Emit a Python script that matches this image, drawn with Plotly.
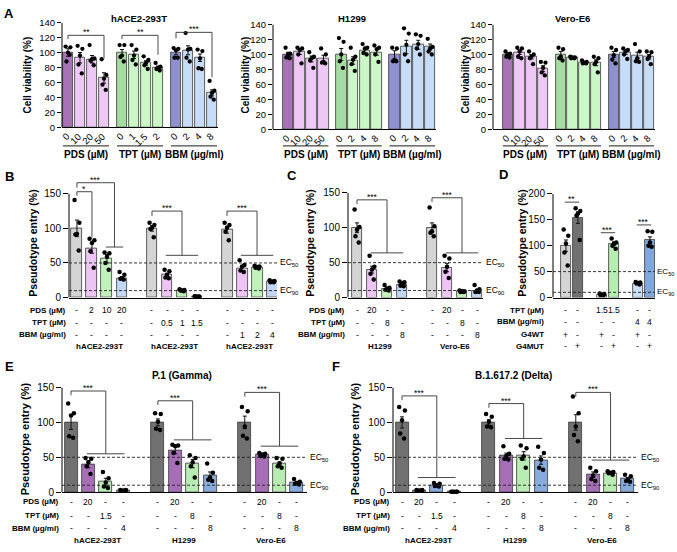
import plotly.graph_objects as go

W, H = 677, 552
def fx(p): return p / W
def fy(p): return 1 - p / H

# ------------------------------------------------------------------ data
# Panel A: cell viability
a_groups = ["PDS (µM)", "TPT (µM)", "BBM (µg/ml)"]
a1_ticks = ["0", "10", "20", "50", "0", "1", "1.5", "2", "0", "2", "4", "8"]
a23_ticks = ["0", "10", "20", "50", "0", "2", "4", "8", "0", "2", "4", "8"]

a1_mean = [100, 93, 91, 66, 100, 97, 86, 80, 100, 103, 93, 46]
a1_sem = [5, 7, 5, 7, 4, 5, 3, 2, 3, 6, 5, 4]
a1_dots = [[108, 107, 100, 88, 97], [109, 105, 96, 84, 72], [110, 92, 91, 89, 83], [91, 70, 65, 57, 50],
           [110, 110, 96, 94, 88], [110, 104, 96, 90, 84], [95, 90, 86, 83, 78], [86, 81, 79, 78, 76],
           [106, 105, 103, 93, 93], [126, 105, 104, 93, 88], [104, 102, 92, 79, 78], [62, 49, 46, 41, 37]]

a2_mean = [100, 104, 94, 95, 100, 92, 105, 103, 100, 110, 113, 110]
a2_sem = [3, 4, 4, 4, 8, 5, 3, 4, 5, 9, 6, 4]
a2_dots = [[109, 101, 100, 96, 95], [109, 108, 106, 100, 88], [103, 97, 95, 92, 82], [108, 100, 90, 89, 88],
           [122, 117, 100, 91, 82], [109, 97, 93, 87, 78], [114, 109, 108, 102, 100], [112, 109, 107, 100, 90],
           [109, 108, 92, 91, 91], [135, 128, 113, 100, 91], [127, 125, 114, 108, 100], [121, 110, 108, 104, 100]]

a3_mean = [100, 103, 97, 81, 100, 96, 89, 89, 100, 103, 99, 97]
a3_sem = [2, 3, 3, 4, 4, 1, 1, 4, 4, 3, 4, 3]
a3_dots = [[104, 101, 100, 97, 96], [109, 108, 104, 97, 95], [104, 100, 97, 95, 87], [90, 89, 82, 76, 72],
           [109, 107, 97, 95, 92], [97, 96, 96, 95, 95], [92, 90, 89, 88, 88], [97, 95, 90, 87, 76],
           [109, 106, 99, 93, 88], [108, 106, 104, 100, 94], [114, 104, 95, 91, 90], [104, 103, 97, 94, 87]]

# Panel B
b_pds = ["-", "2", "10", "20", "-", "-", "-", "-", "-", "-", "-", "-"]
b_tpt = ["-", "-", "-", "-", "-", "0.5", "1", "1.5", "-", "-", "-", "-"]
b_bbm = ["-", "-", "-", "-", "-", "-", "-", "-", "-", "1", "2", "4"]
b_cells = ["hACE2-293T", "hACE2-293T", "hACE2-293T"]
b_mean = [100, 71, 56, 28, 100, 33, 10, 1.5, 98, 42, 43, 23]
b_sem = [12, 7, 6, 2, 4, 2, 0.8, 0.3, 5, 3, 1.5, 1]
b_dots = [[141, 108, 92, 91, 68], [85, 83, 79, 67, 43], [65, 64, 59, 50, 40], [37, 33, 28, 27, 26],
          [108, 105, 101, 99, 87], [40, 38, 33, 29, 28], [12, 11, 10, 10, 9], [2, 1.5, 1.5, 1, 1],
          [108, 105, 101, 95, 83], [54, 47, 45, 39, 37], [46, 45, 44, 43, 42], [25, 24, 23, 22, 22]]

# Panel C
c_pds = ["-", "20", "-", "-", "-", "20", "-", "-"]
c_tpt = ["-", "-", "8", "-", "-", "-", "8", "-"]
c_bbm = ["-", "-", "-", "8", "-", "-", "-", "8"]
c_cells = ["H1299", "Vero-E6"]
c_mean = [100, 40, 12, 18, 100, 43, 9, 10]
c_sem = [7, 5, 1.5, 1.5, 7, 6, 0.5, 1.5]
c_dots = [[126, 101, 97, 88, 79], [60, 44, 40, 34, 26], [18, 14, 13, 11, 10], [23, 22, 20, 17, 16],
          [129, 102, 95, 93, 88], [60, 56, 44, 37, 28], [10, 9, 9, 8, 8], [18, 12, 10, 8, 8]]

# Panel D
d_tpt = ["-", "-", "1.5", "1.5", "-", "-"]
d_bbm = ["-", "-", "-", "-", "4", "4"]
d_wt = ["+", "-", "+", "-", "+", "-"]
d_mut = ["-", "+", "-", "+", "-", "+"]
d_mean = [100, 154, 6, 104, 27, 111]
d_sem = [11, 11, 1, 3, 1, 6]
d_dots = [[131, 119, 104, 87, 62], [172, 167, 162, 158, 111], [8, 7, 6, 5, 5],
          [114, 106, 104, 100, 94], [30, 29, 28, 27, 25], [128, 127, 106, 100, 98]]

# Panels E and F
ef_pds = ["-", "20", "-", "-", "-", "20", "-", "-", "-", "20", "-", "-"]
ef_tpt = ["-", "-", "1.5", "-", "-", "-", "8", "-", "-", "-", "8", "-"]
ef_bbm = ["-", "-", "-", "4", "-", "-", "-", "8", "-", "-", "-", "8"]
ef_cells = ["hACE2-293T", "H1299", "Vero-E6"]
e_mean = [100, 40, 15, 2.5, 100, 60, 41, 24, 100, 54, 41, 14]
e_sem = [10, 5, 5, 0.5, 5, 5, 6, 5, 9, 1, 2.5, 1.5]
e_dots = [[127, 113, 110, 80, 78], [49, 48, 43, 37, 26], [29, 20, 14, 8, 6], [3, 3, 2.5, 2, 2],
          [113, 112, 101, 91, 89], [68, 67, 66, 56, 42], [53, 49, 43, 37, 21], [41, 28, 21, 18, 16],
          [122, 116, 94, 81, 77], [56, 55, 54, 52, 51], [49, 48, 41, 37, 35], [19, 15, 13, 12, 11]]
f_mean = [100, 2.5, 10, 0.5, 100, 52, 52, 46, 100, 25, 27, 19]
f_sem = [8, 0.3, 1, 0.2, 4, 4, 6, 6, 11, 4, 1, 2]
f_dots = [[122, 117, 103, 84, 77], [3, 3, 2.5, 2, 2], [13, 12, 10, 9, 8], [0.5, 0.5, 0.5, 0.5, 0.5],
          [112, 108, 101, 94, 93], [66, 55, 52, 48, 47], [67, 63, 51, 48, 35], [65, 56, 47, 35, 32],
          [137, 113, 94, 82, 73], [35, 30, 24, 19, 16], [30, 29, 28, 27, 25], [25, 23, 18, 16, 15]]

# ------------------------------------------------------------------ style
FONT = "Liberation Sans, Arial, sans-serif"
PDS_D, PDS_L = "#a873b6", "#eec8f5"
TPT_D, TPT_L = "#a6dba2", "#cbf6c5"
BBM_D, BBM_L = "#8e90d0", "#c7dcf6"
GRAY_L, GRAY_D = "#d4d4d4", "#717171"
PINK, GREEN, BLUE = "#eec4f5", "#c2f2bc", "#c1d7f3"
PURPLE, GREEN2, BLUE2 = "#a66fb5", "#b8ecb2", "#86abdc"
JIT = [-0.22, 0.22, 0.0, -0.14, 0.16]

fig = go.Figure()
axes = {}
shapes = []
anns = []


def ann(text, x, y, xref="paper", yref="paper", size=8, bold=False, xanchor="center",
        yanchor="middle", angle=0, yshift=0, xshift=0):
    if bold:
        text = "<b>" + text + "</b>"
    anns.append(dict(text=text, x=x, y=y, xref=xref, yref=yref, showarrow=False,
                     font=dict(size=size, family=FONT, color="black"), xanchor=xanchor,
                     yanchor=yanchor, textangle=angle, yshift=yshift, xshift=xshift, borderpad=0))


def refs(k):
    return ("x", "y") if k == 1 else (f"x{k}", f"y{k}")


def panel(k, xpx, ypx, xr, yr, yticks, xs, means, sems, dots, colors, barw, dotsize=4.5,
          tsize=10, tlen=5):
    xa, ya = refs(k)
    axes["xaxis" if k == 1 else f"xaxis{k}"] = dict(
        domain=[fx(xpx[0]), fx(xpx[1])], range=xr, anchor=ya, showgrid=False, zeroline=False,
        showline=True, linecolor="black", linewidth=1, ticks="", showticklabels=False, fixedrange=True)
    axes["yaxis" if k == 1 else f"yaxis{k}"] = dict(
        domain=[fy(ypx[0]), fy(ypx[1])], range=yr, anchor=xa, showgrid=False, zeroline=False,
        showline=False, ticks="outside", ticklen=tlen, tickwidth=1, tickcolor="black",
        tickvals=yticks, tickfont=dict(size=tsize, family=FONT, color="black"), fixedrange=True)
    shapes.append(dict(type="line", xref="paper", yref=ya, x0=fx(xpx[0]), x1=fx(xpx[0]),
                       y0=0, y1=yticks[-1], line=dict(color="black", width=1)))
    fig.add_trace(go.Bar(x=xs, y=means, width=barw, xaxis=xa, yaxis=ya, showlegend=False,
                         marker=dict(color=colors, line=dict(color="#3a3a3a", width=0.8)),
                         error_y=dict(type="data", array=sems, visible=True, color="#111",
                                      thickness=1, width=2)))
    dx, dy = [], []
    for x, vals in zip(xs, dots):
        for j, v in enumerate(vals):
            dx.append(x + JIT[j] * barw)
            dy.append(v)
    fig.add_trace(go.Scatter(x=dx, y=dy, mode="markers", xaxis=xa, yaxis=ya, showlegend=False,
                             cliponaxis=False, marker=dict(size=dotsize, color="black")))


def line(k, x0, y0, x1, y1, dash=None, width=0.9, color="#333"):
    xa, ya = refs(k)
    d = dict(type="line", xref=xa, yref=ya, x0=x0, y0=y0, x1=x1, y1=y1,
             line=dict(color=color, width=width))
    if dash:
        d["line"]["dash"] = dash
    shapes.append(d)


def bracket(k, xc, xa_, xb_, ytop, ylow, yleft, stars):
    xm = (xa_ + xb_) / 2
    line(k, xc, ytop, xm, ytop)
    line(k, xc, ytop, xc, yleft)
    line(k, xm, ytop, xm, ylow)
    if xb_ > xa_:
        line(k, xa_ - 0.08, ylow, xb_ + 0.08, ylow)
    xr, yr = refs(k)
    ann(stars, (xc + xm) / 2, ytop, xref=xr, yref=yr, size=8.5, yanchor="bottom", yshift=-3)


def ec_lines(k, xr, size=8.5, xshift=1.5):
    xa, ya = refs(k)
    for v, lab in [(50, "EC<sub>50</sub>"), (10, "EC<sub>90</sub>")]:
        line(k, xr[0], v, xr[1], v, dash="3px,2px", width=0.9, color="#222")
        ann(lab, xr[1], v, xref=xa, yref=ya, size=size, xanchor="left", xshift=xshift)


def rows(k, xs, row_vals, row_names, row_y, label_right):
    xa, _ = refs(k)
    for vals, name, y in zip(row_vals, row_names, row_y):
        ann(name, fx(label_right), fy(y), size=8, bold=True, xanchor="right")
        for x, v in zip(xs, vals):
            ann(v, x, fy(y), xref=xa, size=8.5)


def cells(k, centers, names, y):
    xa, _ = refs(k)
    for c, n in zip(centers, names):
        ann(n, c, fy(y), xref=xa, size=8, bold=True)


# ------------------------------------------------------------------ panel A
a_x = [g * 4.5 + i for g in range(3) for i in range(4)]
a_colors = [PDS_D, PDS_L, PDS_L, PDS_L, TPT_D, TPT_L, TPT_L, TPT_L, BBM_D, BBM_L, BBM_L, BBM_L]
a_yt = [0, 20, 40, 60, 80, 100, 120, 140]
a_specs = [
    (1, (62, 218), (124, 17), [-0.5, 12.5], a1_mean, a1_sem, a1_dots, a1_ticks, "hACE2-293T", 139, 27),
    (2, (273, 436), (126, 19), [-1.26, 12.5], a2_mean, a2_sem, a2_dots, a23_ticks, "H1299", 352, 245),
    (3, (493, 655), (126, 19), [-1.26, 12.5], a3_mean, a3_sem, a3_dots, a23_ticks, "Vero-E6", 572, 465),
]
for k, xpx, ypx, xr, m, s, d, tt, title, tx, ytx in a_specs:
    panel(k, xpx, ypx, xr, [0, 140], a_yt, a_x, m, s, d, a_colors, 0.9, dotsize=4.3, tsize=9.5, tlen=4)
    xa, _ = refs(k)
    for x, t in zip(a_x, tt):
        ann(t, x + 0.4, fy(ypx[0] + 2), xref=xa, size=9.5, angle=-45, xanchor="right", yanchor="top")
    for g, name in enumerate(a_groups):
        x0 = a_x[g * 4] - 0.42
        x1 = a_x[g * 4 + 3] + 0.42
        shapes.append(dict(type="line", xref=xa, yref="paper", x0=x0, x1=x1, y0=fy(143), y1=fy(143),
                           line=dict(color="black", width=0.9)))
        ann(name, (x0 + x1) / 2, fy(152), xref=xa, size=10, bold=True)
    ann(title, fx(tx), fy(13), size=9.5, bold=True)
    ann("Cell viability (%)", fx(ytx), fy(71), size=10, bold=True, angle=-90)

bracket(1, a_x[0], a_x[3], a_x[3], 123, 92, 118, "**")
bracket(1, a_x[4], a_x[7], a_x[7], 123, 97, 118, "**")
bracket(1, a_x[8], a_x[11], a_x[11], 127, 67, 119, "***")

# ------------------------------------------------------------------ panel B
b_x = [g * 5 + i for g in range(3) for i in range(4)]
b_colors = [GRAY_L, PINK, GREEN, BLUE] * 3
b_xr = [-0.53, 13.33]
panel(4, (69, 277), (298, 174.3), b_xr, [0, 175], [0, 50, 100, 150], b_x, b_mean, b_sem, b_dots,
      b_colors, 0.73)
ec_lines(4, b_xr)
bracket(4, 0, 1, 1, 153, 87, 147, "*")
bracket(4, 0, 2, 3, 166, 73, 159, "***")
bracket(4, 5, 6, 8, 125, 61, 118, "***")
bracket(4, 10, 11, 13, 125, 61, 118, "***")
rows(4, b_x, [b_pds, b_tpt, b_bbm], ["PDS (µM)", "TPT (µM)", "BBM (µg/ml)"], [311, 324, 336], 67)
cells(4, [1.5, 6.5, 11.5], b_cells, 348)
ann("Pseudotype entry (%)", fx(33), fy(243), size=10.5, bold=True, angle=-90)

# ------------------------------------------------------------------ panel C
c_x = [g * 5 + i for g in range(2) for i in range(4)]
c_colors = [GRAY_L, PINK, GREEN, BLUE] * 2
c_xr = [-0.6, 8.4]
panel(5, (348, 483), (298, 183.9), c_xr, [0, 160], [0, 50, 100, 150], c_x, c_mean, c_sem, c_dots,
      c_colors, 0.73)
ec_lines(5, c_xr)
bracket(5, 0, 1, 3, 140, 64, 134, "***")
bracket(5, 5, 6, 8, 143, 64, 137, "***")
rows(5, c_x, [c_pds, c_tpt, c_bbm], ["PDS (µM)", "TPT (µM)", "BBM (µg/ml)"], [311, 324, 336], 346)
cells(5, [1.5, 6.5], c_cells, 348)
ann("Pseudotype entry (%)", fx(310), fy(243), size=10.5, bold=True, angle=-90)

# ------------------------------------------------------------------ panel D
d_x = [g * 3 + i for g in range(3) for i in range(2)]
d_colors = [GRAY_L, GRAY_D, "#dcf6d8", GREEN2, "#c9def7", "#80a8dc"]
d_xr = [-1.08, 7.42]
panel(6, (553, 655), (298, 192), d_xr, [0, 200], [0, 50, 100, 150, 200], d_x, d_mean, d_sem, d_dots,
      d_colors, 0.88)
ec_lines(6, d_xr, size=8, xshift=1)
for (x0, x1, y, st) in [(0, 1, 184, "**"), (3, 4, 125, "***"), (6, 7, 140, "***")]:
    line(6, x0 - 0.1, y, x1 + 0.1, y)
    ann(st, (x0 + x1) / 2, y, xref="x6", yref="y6", size=8.5, yanchor="bottom", yshift=-3)
rows(6, d_x, [d_tpt, d_bbm, d_wt, d_mut], ["TPT (µM)", "BBM (µg/ml)", "G4WT", "G4MUT"],
     [311, 323, 336, 348], 545)
ann("Pseudotype entry (%)", fx(522), fy(243), size=10.5, bold=True, angle=-90)

# ------------------------------------------------------------------ panels E, F
ef_x = [g * 5 + i for g in range(3) for i in range(4)]
ef_xr = [-0.52, 13.58]
e_colors = [GRAY_D, PURPLE, GREEN2, BLUE2] * 3
f_colors = [GRAY_D, PURPLE, BLUE2, BLUE2] + [GRAY_D, PURPLE, GREEN2, BLUE2] * 2
panel(7, (62, 307), (497, 390), ef_xr, [0, 150], [0, 50, 100, 150], ef_x, e_mean, e_sem, e_dots,
      e_colors, 0.75)
panel(8, (393, 638), (497, 390), ef_xr, [0, 150], [0, 50, 100, 150], ef_x, f_mean, f_sem, f_dots,
      f_colors, 0.75)
for k in (7, 8):
    ec_lines(k, ef_xr)
bracket(7, 0, 1, 3, 145, 55, 139, "***")
bracket(7, 5, 6, 8, 131, 75, 125, "***")
bracket(7, 10, 11, 13, 143, 66, 137, "***")
bracket(8, 0, 1, 3, 138, 21, 132, "***")
bracket(8, 5, 6, 8, 127, 77, 121, "***")
bracket(8, 10, 11, 13, 143, 46, 137, "***")
for k, lr, ytx, title, tx in [(7, 60, 25, "P.1 (Gamma)", 182), (8, 391, 355, "B.1.617.2 (Delta)", 513)]:
    rows(k, ef_x, [ef_pds, ef_tpt, ef_bbm], ["PDS (µM)", "TPT (µM)", "BBM (µg/ml)"], [507, 521, 534], lr)
    cells(k, [1.5, 6.5, 11.5], ef_cells, 546)
    ann("Pseudotype entry (%)", fx(ytx), fy(443), size=11, bold=True, angle=-90)
    ann(title, fx(tx), fy(378), size=10, bold=True)

# panel letters
for L, x, y in [("A", 9, 8), ("B", 9, 174), ("C", 292, 173), ("D", 503, 172), ("E", 9, 368), ("F", 336, 368)]:
    ann(L, fx(x), fy(y), size=13, bold=True)

fig.update_layout(width=W, height=H, margin=dict(l=0, r=0, t=0, b=0), paper_bgcolor="white",
                  plot_bgcolor="rgba(0,0,0,0)", font=dict(family=FONT, color="black"),
                  shapes=shapes, annotations=anns, bargap=0, **axes)
fig.write_html("out.html", config={"displayModeBar": False},
               post_script="document.body.style.margin='0px';document.body.style.overflow='hidden';")
